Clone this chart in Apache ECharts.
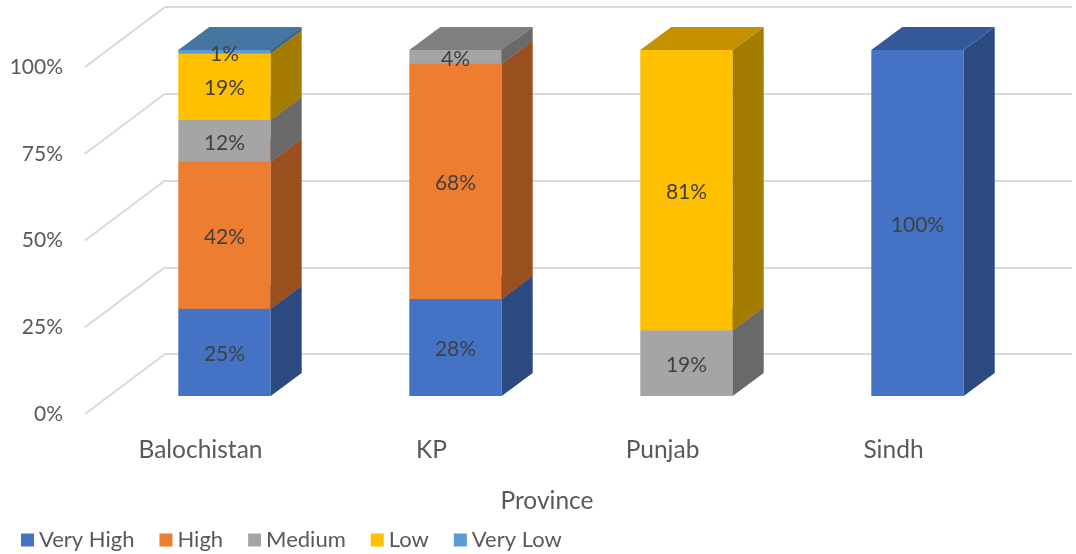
<!DOCTYPE html>
<html>
<head>
<meta charset="utf-8">
<script src="https://cdn.jsdelivr.net/npm/echarts@6/dist/echarts.min.js"></script>
<style>
  html, body { margin: 0; padding: 0; background: #fff; }
  #chart { width: 1076px; height: 554px; }
</style>
</head>
<body>
<div id="chart"></div>
<script>
// Share of districts per risk level, by province (percent labels)
const provinces = ['Balochistan', 'KP', 'Punjab', 'Sindh'];
const levels = ['Very High', 'High', 'Medium', 'Low', 'Very Low'];
const veryHigh = [25, 28, 0, 100];
const high = [42, 68, 0, 0];
const medium = [12, 4, 19, 0];
const low = [19, 0, 81, 0];
const veryLow = [1, 0, 0, 0];
const yTicks = [0, 25, 50, 75, 100];

const levelValues = [veryHigh, high, medium, low, veryLow];

// Face colours: front, right side (shaded), top (lit)
const frontColors = ['#4472C4', '#ED7D31', '#A5A5A5', '#FFC000', '#5B9BD5'];
const sideColors  = ['#2A4A80', '#9A4F1E', '#696969', '#A47C00', '#3A6590'];
const topColors   = ['#34589A', '#B45F25', '#7F7F7F', '#C49200', '#4576A2'];

// Oblique projection of the depth axis
const BAR_DX = 31, BAR_DY = -23;     // depth of one column
const FLOOR_DX = 80, FLOOR_DY = -60; // depth of the whole floor

const FONT = 'Lato, "Open Sans", sans-serif';

// 100% stacking: each segment spans its share of the column total
const totals = provinces.map((_, i) => levelValues.reduce((s, arr) => s + arr[i], 0));
const stackBase = provinces.map(() => 0);
const stackedData = levelValues.map(arr => {
  const rows = [];
  arr.forEach((v, i) => {
    const share = v / totals[i] * 100;
    const b = stackBase[i];
    stackBase[i] += share;
    if (v > 0) rows.push([i, b, b + share, v]);
  });
  return rows;
});

function cuboid(k) {
  return function (params, api) {
    const ci = api.value(0);
    const pb = api.coord([ci, api.value(1)]);
    const pt = api.coord([ci, api.value(2)]);
    const w = api.size([1, 0])[0] * 0.4;
    const xl = pb[0] - w / 2, xr = pb[0] + w / 2;
    const yb = pb[1], yt = pt[1];
    return {
      type: 'group',
      children: [
        { type: 'rect', shape: { x: xl, y: yt, width: w, height: yb - yt },
          style: { fill: frontColors[k] } },
        { type: 'polygon', shape: { points: [[xr, yt], [xr + BAR_DX, yt + BAR_DY], [xr + BAR_DX, yb + BAR_DY], [xr, yb]] },
          style: { fill: sideColors[k] } },
        { type: 'polygon', shape: { points: [[xl, yt], [xl + BAR_DX, yt + BAR_DY], [xr + BAR_DX, yt + BAR_DY], [xr, yt]] },
          style: { fill: topColors[k] } },
        { type: 'text', z2: 10,
          style: { text: api.value(3) + '%', x: pb[0], y: (yb + yt) / 2 + 2, align: 'center', verticalAlign: 'middle',
                   fill: '#404040', font: '21px ' + FONT } }
      ]
    };
  };
}

const barSeries = levels.map((name, k) => ({
  name: name,
  type: 'custom',
  xAxisIndex: 1,
  yAxisIndex: 1,
  itemStyle: { color: frontColors[k] },
  renderItem: cuboid(k),
  data: stackedData[k],
  z: 3
}));

// Floor-to-wall gridline segments running into depth
const depthLines = {
  type: 'custom',
  xAxisIndex: 0,
  yAxisIndex: 0,
  silent: true,
  z: 1,
  renderItem: function (params, api) {
    const y = api.coord([0, api.value(1)])[1];
    const x0 = params.coordSys.x;
    return { type: 'polyline', shape: { points: [[x0, y], [x0 + FLOOR_DX, y + FLOOR_DY]] },
             style: { stroke: '#D9D9D9', lineWidth: 2, fill: null } };
  },
  data: yTicks.map(v => [0, v])
};

const chart = echarts.init(document.getElementById('chart'), null, { renderer: 'canvas' });
chart.setOption({
  animation: false,
  backgroundColor: '#ffffff',
  textStyle: { fontFamily: FONT },
  grid: [
    // front edge of the floor: carries the axis labels
    { left: 85, right: 67, top: 67, bottom: 140 },
    // front plane of the columns
    { left: 109, right: 43, top: 50, bottom: 158 },
    // back wall
    { left: 165, right: 4, top: 7, bottom: 200 }
  ],
  xAxis: [
    { gridIndex: 0, type: 'category', data: provinces,
      axisLine: { show: false }, axisTick: { show: false },
      axisLabel: { color: '#595959', fontSize: 24.5, margin: 24, fontFamily: FONT },
      name: 'Province', nameLocation: 'middle', nameGap: 75,
      nameTextStyle: { color: '#595959', fontSize: 24.5, fontFamily: FONT } },
    { gridIndex: 1, type: 'category', data: provinces, show: false },
    { gridIndex: 2, type: 'value', min: 0, max: 1, show: false }
  ],
  yAxis: [
    { gridIndex: 0, type: 'value', min: 0, max: 100, interval: 25,
      axisLine: { show: false }, axisTick: { show: false }, splitLine: { show: false },
      axisLabel: { formatter: '{value}%', color: '#595959', fontSize: 21, margin: 22, fontFamily: FONT } },
    { gridIndex: 1, type: 'value', min: 0, max: 100, show: false },
    { gridIndex: 2, type: 'value', min: 0, max: 100, interval: 25,
      axisLine: { show: false }, axisTick: { show: false }, axisLabel: { show: false },
      splitLine: { show: true, lineStyle: { color: '#D9D9D9', width: 2 } } }
  ],
  legend: {
    data: levels,
    left: 16,
    top: 524,
    icon: 'rect',
    itemWidth: 13,
    itemHeight: 13,
    itemGap: 25,
    textStyle: { color: '#595959', fontSize: 22, fontFamily: FONT }
  },
  series: [depthLines].concat(barSeries)
});
</script>
</body>
</html>
